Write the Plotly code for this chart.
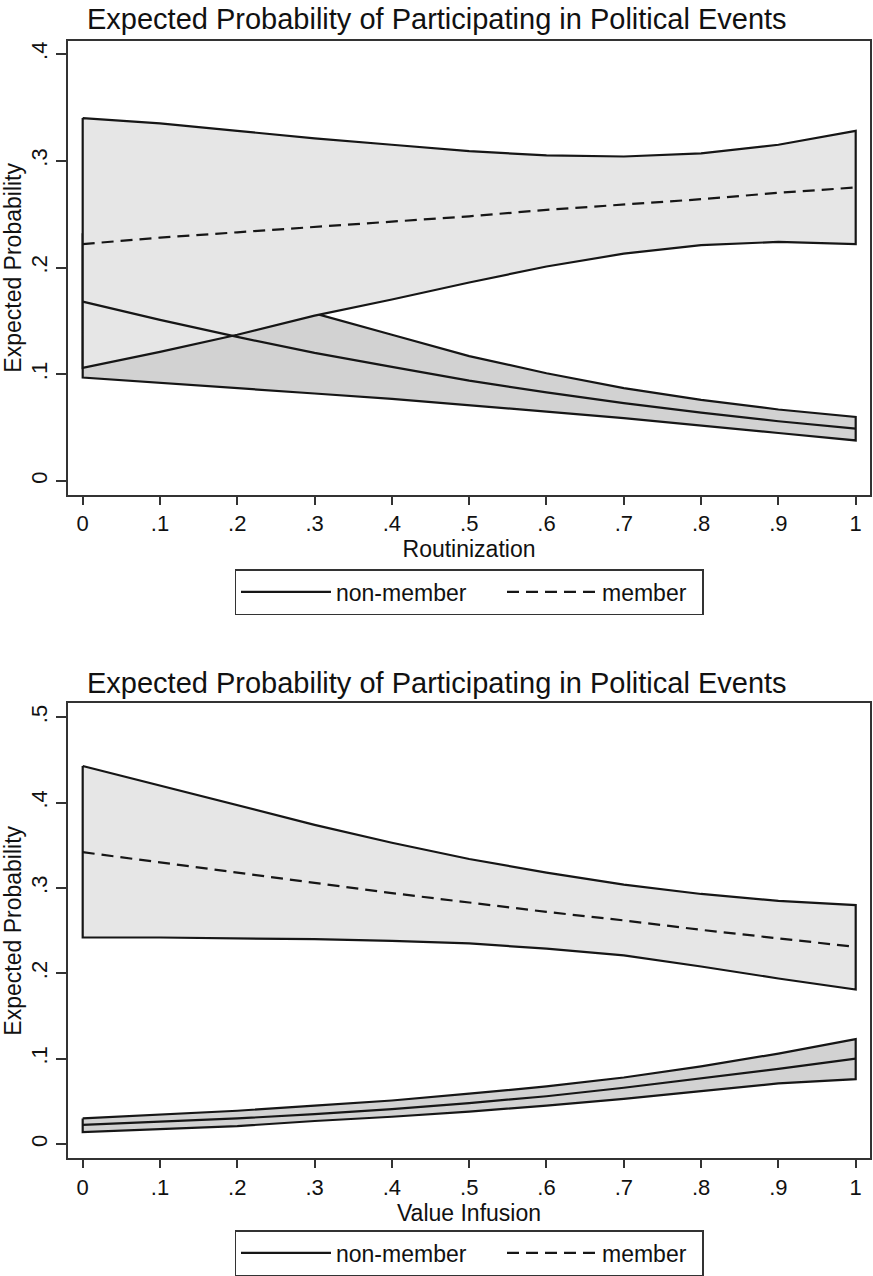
import plotly.graph_objects as go

# ---------------- data ----------------
x_vals = [0, .1, .2, .3, .4, .5, .6, .7, .8, .9, 1]
x_tick_vals = [0, .1, .2, .3, .4, .5, .6, .7, .8, .9, 1]
x_tick_text = ['0', '.1', '.2', '.3', '.4', '.5', '.6', '.7', '.8', '.9', '1']
y1_tick_vals = [0, .1, .2, .3, .4]
y1_tick_text = ['0', '.1', '.2', '.3', '.4']
y2_tick_vals = [0, .1, .2, .3, .4, .5]
y2_tick_text = ['0', '.1', '.2', '.3', '.4', '.5']

# Panel 1: Routinization
r_member_mean = [0.222, 0.228, 0.233, 0.238, 0.243, 0.248, 0.254, 0.259, 0.264, 0.270, 0.275]
r_member_lo = [0.106, 0.121, 0.137, 0.155, 0.170, 0.186, 0.201, 0.213, 0.221, 0.224, 0.222]
r_member_hi = [0.340, 0.335, 0.328, 0.321, 0.315, 0.309, 0.305, 0.304, 0.307, 0.315, 0.328]
r_non_mean = [0.168, 0.151, 0.135, 0.120, 0.107, 0.094, 0.083, 0.073, 0.064, 0.056, 0.049]
r_non_lo = [0.097, 0.092, 0.087, 0.082, 0.077, 0.071, 0.065, 0.059, 0.052, 0.045, 0.038]
r_non_hi = [0.232, 0.205, 0.180, 0.157, 0.137, 0.117, 0.101, 0.087, 0.076, 0.067, 0.060]

# Panel 2: Value Infusion
v_member_mean = [0.342, 0.330, 0.318, 0.306, 0.294, 0.283, 0.272, 0.262, 0.251, 0.241, 0.231]
v_member_lo = [0.242, 0.242, 0.241, 0.240, 0.238, 0.235, 0.229, 0.221, 0.208, 0.194, 0.181]
v_member_hi = [0.443, 0.420, 0.397, 0.374, 0.353, 0.334, 0.318, 0.304, 0.293, 0.285, 0.280]
v_non_mean = [0.0225, 0.0264, 0.030, 0.035, 0.041, 0.048, 0.056, 0.066, 0.077, 0.088, 0.100]
v_non_lo = [0.014, 0.0175, 0.021, 0.027, 0.032, 0.038, 0.045, 0.053, 0.062, 0.071, 0.076]
v_non_hi = [0.030, 0.0345, 0.039, 0.045, 0.051, 0.059, 0.0675, 0.078, 0.091, 0.106, 0.123]

title_text = 'Expected Probability of Participating in Political Events'
x1_title = 'Routinization'
x2_title = 'Value Infusion'
y_title = 'Expected Probability'
series_names = ['non-member', 'member']

# ---------------- style ----------------
FONT = 'Liberation Sans, Arial, Helvetica, sans-serif'
TXT = '#111111'
LINE_COL = '#161616'
FRAME_COL = '#333333'
MEMBER_FILL = '#e6e6e6'
NON_FILL = '#d2d2d2'
LW = 2.2
DASH = '12px,7px'


def band(x, lo, hi, fill, xa, ya):
    px = list(x) + list(x)[::-1] + [x[0]]
    py = list(hi) + list(lo)[::-1] + [hi[0]]
    return go.Scatter(x=px, y=py, mode='lines', fill='toself', fillcolor=fill,
                      line=dict(color=LINE_COL, width=LW), showlegend=False,
                      hoverinfo='skip', xaxis=xa, yaxis=ya)


def mean_line(x, y, name, dash, xa, ya, leg, lw_leg):
    return go.Scatter(x=x, y=y, mode='lines', name=name,
                      line=dict(color=LINE_COL, width=LW, dash=dash),
                      xaxis=xa, yaxis=ya, legend=leg, legendwidth=lw_leg)


fig = go.Figure()

# top panel
fig.add_trace(band(x_vals, r_non_lo, r_non_hi, NON_FILL, 'x', 'y'))
fig.add_trace(band(x_vals, r_member_lo, r_member_hi, MEMBER_FILL, 'x', 'y'))
fig.add_trace(mean_line(x_vals, r_non_mean, series_names[0], 'solid', 'x', 'y', 'legend', 161))
fig.add_trace(mean_line(x_vals, r_member_mean, series_names[1], DASH, 'x', 'y', 'legend', 95))

# bottom panel
fig.add_trace(band(x_vals, v_non_lo, v_non_hi, NON_FILL, 'x2', 'y2'))
fig.add_trace(band(x_vals, v_member_lo, v_member_hi, MEMBER_FILL, 'x2', 'y2'))
fig.add_trace(mean_line(x_vals, v_non_mean, series_names[0], 'solid', 'x2', 'y2', 'legend2', 161))
fig.add_trace(mean_line(x_vals, v_member_mean, series_names[1], DASH, 'x2', 'y2', 'legend2', 95))

W, H = 873, 1276
xdom = [68 / W, 870 / W]


def ydom(top_px, bot_px):
    return [1 - bot_px / H, 1 - top_px / H]


xaxis_common = dict(domain=xdom, range=[-0.019, 1.0185], tickmode='array',
                    tickvals=x_tick_vals, ticktext=x_tick_text, ticks='outside',
                    ticklen=8, tickwidth=1.5, tickcolor=FRAME_COL,
                    showline=True, linewidth=2, linecolor=FRAME_COL, mirror=True,
                    showgrid=False, zeroline=False,
                    tickfont=dict(family=FONT, size=22, color=TXT))
yaxis_common = dict(ticks='outside', ticklen=10, tickwidth=1.5, tickcolor=FRAME_COL,
                    showline=True, linewidth=2, linecolor=FRAME_COL, mirror=True,
                    showgrid=False, zeroline=False, tickangle=-90,
                    tickfont=dict(family=FONT, size=22, color=TXT),
                    title=dict(text=y_title, font=dict(family=FONT, size=23, color=TXT),
                               standoff=0))

legend_common = dict(orientation='h', x=469 / W, xanchor='center', yanchor='middle',
                     bordercolor=FRAME_COL, borderwidth=1.5, bgcolor='white', itemwidth=90,
                     font=dict(family=FONT, size=23, color=TXT))

fig.update_layout(
    width=W, height=H,
    margin=dict(l=0, r=0, t=0, b=0),
    paper_bgcolor='white', plot_bgcolor='white',
    font=dict(family=FONT, color=TXT),
    xaxis=dict(anchor='y', **xaxis_common,
               title=dict(text=x1_title, font=dict(family=FONT, size=23, color=TXT), standoff=2)),
    yaxis=dict(anchor='x', domain=ydom(40.7, 495), range=[-0.0131, 0.4125],
               tickmode='array', tickvals=y1_tick_vals, ticktext=y1_tick_text, **yaxis_common),
    xaxis2=dict(anchor='y2', **xaxis_common,
                title=dict(text=x2_title, font=dict(family=FONT, size=23, color=TXT), standoff=2)),
    yaxis2=dict(anchor='x2', domain=ydom(703.3, 1158.3), range=[-0.0167, 0.5164],
                tickmode='array', tickvals=y2_tick_vals, ticktext=y2_tick_text, **yaxis_common),
    legend=dict(y=1 - 592 / H, **legend_common),
    legend2=dict(y=1 - 1253 / H, **legend_common),
    annotations=[
        dict(text=title_text, x=436.5 / W, xref='paper', y=1 - 19 / H, yref='paper',
             xanchor='center', yanchor='middle', showarrow=False,
             font=dict(family=FONT, size=29, color=TXT)),
        dict(text=title_text, x=436.5 / W, xref='paper', y=1 - 683 / H, yref='paper',
             xanchor='center', yanchor='middle', showarrow=False,
             font=dict(family=FONT, size=29, color=TXT)),
    ],
)

fig.write_html('out.html', config={'displayModeBar': False},
               post_script="document.body.style.margin='0';")
